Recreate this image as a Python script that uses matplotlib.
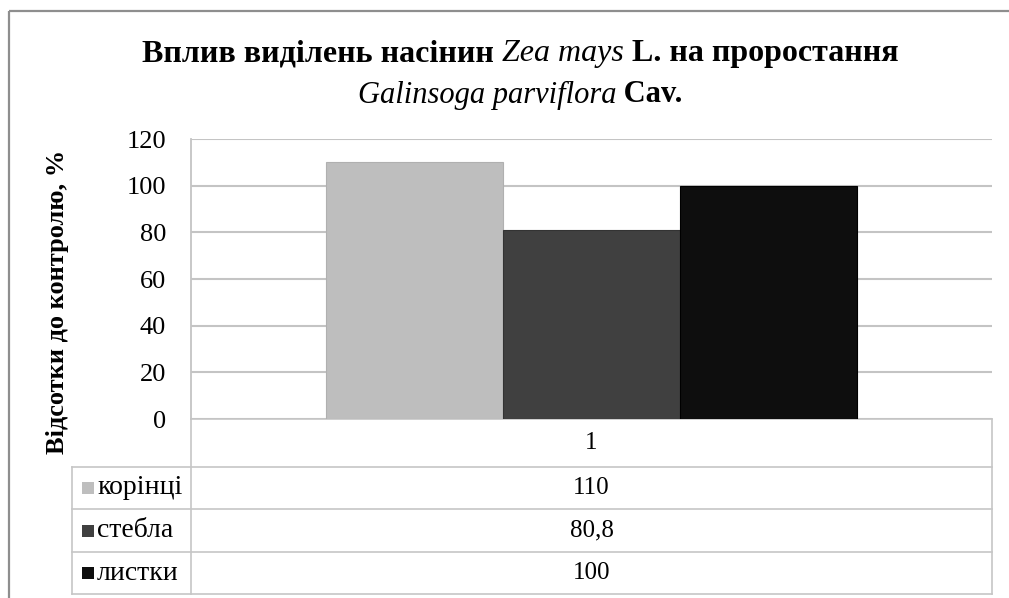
import matplotlib
matplotlib.use("Agg")
import matplotlib.pyplot as plt
import numpy as np

plt.rcParams["font.family"] = ["Liberation Serif", "DejaVu Serif"]

# data
category_labels = ["1"]
series_names = ["корінці", "стебла", "листки"]
series_values = [110, 80.8, 100]
value_labels = ["110", "80,8", "100"]
series_colors = ["#bebebe", "#404040", "#0e0e0e"]
edge_colors = ["#b0b0b0", "#333333", "#000000"]
y_ticks = [0, 20, 40, 60, 80, 100, 120]

W, H = 1009, 598
fig = plt.figure(figsize=(W / 100, H / 100), dpi=100)

# overlay in pixel coordinates for the frame and the data table
ov = fig.add_axes([0, 0, 1, 1], zorder=0)
ov.set_xlim(0, W)
ov.set_ylim(H, 0)
ov.axis("off")

frame_c = "#8e8e8e"
ov.plot([9, W], [11, 11], color=frame_c, lw=1.6, solid_capstyle="butt")
ov.plot([9, 9], [11, H], color=frame_c, lw=1.6, solid_capstyle="butt")

# plot area
px_left, px_right, px_top, px_bottom = 191, 992, 139, 419
ax = fig.add_axes([px_left / W, 1 - px_bottom / H,
                   (px_right - px_left) / W, (px_bottom - px_top) / H], zorder=2)
ax.patch.set_alpha(0)

n = len(series_values)
group_width = 0.663
bw = group_width / n
x0 = np.arange(len(category_labels))
for i, (v, c, ec) in enumerate(zip(series_values, series_colors, edge_colors)):
    ax.bar(x0 + (i - (n - 1) / 2) * bw, [v], width=bw, color=c,
           edgecolor=ec, linewidth=0.8, zorder=3)

ax.set_xlim(-0.5, 0.5)
ax.set_ylim(0, 120)
ax.set_yticks(y_ticks)
ax.set_yticklabels([str(t) for t in y_ticks], fontsize=19)
ax.tick_params(axis="y", length=0, pad=18)
ax.set_xticks([])
ax.grid(axis="y", color="#c4c4c4", lw=1.5, zorder=0)
for s in ["top", "right", "bottom"]:
    ax.spines[s].set_visible(False)
ax.spines["left"].set_color("#c4c4c4")
ax.spines["left"].set_linewidth(1.3)

ax.set_ylabel("Відсотки до контролю, %", fontsize=19, fontweight="bold")
ax.yaxis.set_label_coords(-0.152, 0.42, transform=ax.transAxes)

# data table below the plot
tc = "#c6c6c6"
tlw = 1.2
row_lines = [467, 509, 552, 594]
col_left, col_mid, col_right = 72, 191, 992
ov.plot([col_mid, col_right], [419, 419], color=tc, lw=tlw)
for y in row_lines:
    ov.plot([col_left, col_right], [y, y], color=tc, lw=tlw)
ov.plot([col_mid, col_mid], [419, row_lines[-1]], color=tc, lw=tlw)
ov.plot([col_right, col_right], [419, row_lines[-1]], color=tc, lw=tlw)
ov.plot([col_left, col_left], [row_lines[0], row_lines[-1]], color=tc, lw=tlw)

cx = (col_mid + col_right) / 2
ov.text(cx, (419 + row_lines[0]) / 2, category_labels[0], ha="center", va="center", fontsize=18)
for i, (name, lab, c) in enumerate(zip(series_names, value_labels, series_colors)):
    yc = (row_lines[i] + row_lines[i + 1]) / 2
    ov.add_patch(plt.Rectangle((82, yc - 6), 12, 12, color=c, lw=0))
    ov.text(97, yc, name, ha="left", va="center", fontsize=20)
    ov.text(cx, yc, lab, ha="center", va="center", fontsize=18)

# title with mixed upright / italic pieces
renderer = fig.canvas.get_renderer()


def draw_line(pieces, xc, yc, size):
    objs = []
    for txt, style in pieces:
        kw = dict(fontsize=size, va="center", ha="left")
        if style == "b":
            kw["fontweight"] = "bold"
        elif style == "i":
            kw["fontstyle"] = "italic"
        objs.append(ov.text(0, yc, txt, **kw))
    widths = [o.get_window_extent(renderer).width for o in objs]
    total = sum(widths)
    x = xc - total / 2
    for o, w in zip(objs, widths):
        o.set_x(x)
        x += w


draw_line([("Вплив виділень насінин ", "b"), ("Zea mays", "i"),
           (" L. на проростання", "b")], 520, 54, 23)
draw_line([("Galinsoga parviflora", "i"), (" Cav.", "b")], 520, 95, 22)

fig.savefig("out.png", dpi=100)
